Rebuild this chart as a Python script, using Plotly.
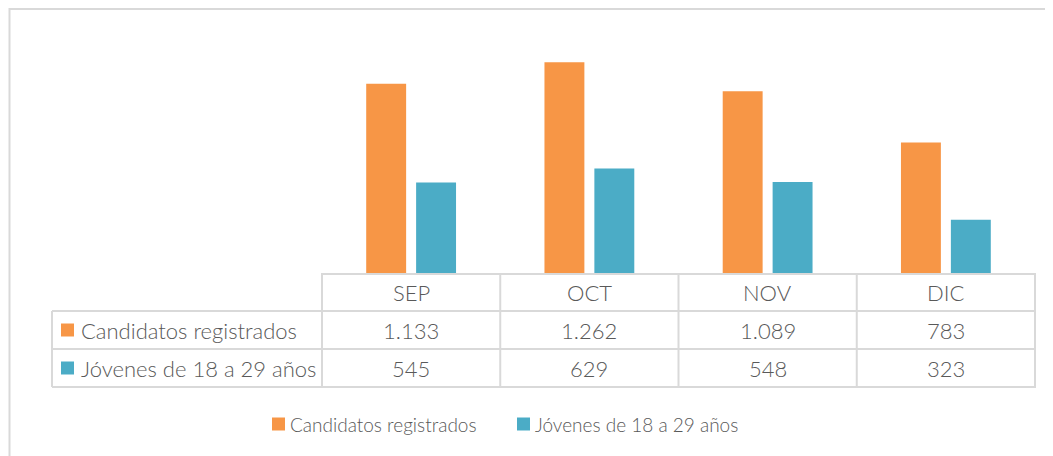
import plotly.graph_objects as go

months = ["SEP", "OCT", "NOV", "DIC"]
candidatos = [1133, 1262, 1089, 783]
jovenes = [545, 629, 548, 323]
candidatos_txt = ["1.133", "1.262", "1.089", "783"]
jovenes_txt = ["545", "629", "548", "323"]
series_names = ["Candidatos registrados", "Jóvenes de 18 a 29 años"]

ORANGE = "#F79646"
TEAL = "#4BACC6"
GRID = "#D9D9D9"
TEXT = "#595959"
FONT = "Lato"

# page body adds an 8px margin, so the figure is drawn 8px smaller and
# positions below are given in page pixels
OFF = 8
W, H = 1053 - OFF, 456 - OFF
L, R, T, B = 321 - OFF, 17, 39 - OFF, 182
PW, PH = W - L - R, H - T - B


def px(x):
    return (x - OFF - L) / PW


def py(y):
    return (H - B - (y - OFF)) / PH


fig = go.Figure()

fig.add_trace(go.Bar(x=months, y=candidatos, name=series_names[0],
                     marker=dict(color=ORANGE, line=dict(width=0))))
fig.add_trace(go.Bar(x=months, y=jovenes, name=series_names[1],
                     marker=dict(color=TEAL, line=dict(width=0))))

shapes = []
line = dict(color=GRID, width=2)

# outer chart border
shapes.append(dict(type="rect", xref="paper", yref="paper",
                   x0=px(9.5), x1=px(1080), y0=py(9), y1=py(480),
                   line=dict(color=GRID, width=2)))

# data table grid
row_y = [274, 311, 349, 387]
left_x = 52
shapes.append(dict(type="line", xref="paper", yref="paper",
                   x0=0, x1=1, y0=py(row_y[0]), y1=py(row_y[0]), line=line))
for y in row_y[1:]:
    shapes.append(dict(type="line", xref="paper", yref="paper",
                       x0=px(left_x), x1=1, y0=py(y), y1=py(y), line=line))
for i in range(len(months) + 1):
    shapes.append(dict(type="line", xref="x", yref="paper",
                       x0=i - 0.5, x1=i - 0.5, y0=py(row_y[0]), y1=py(row_y[-1]),
                       line=line))
shapes.append(dict(type="line", xref="paper", yref="paper",
                   x0=px(left_x), x1=px(left_x), y0=py(row_y[1]), y1=py(row_y[-1]),
                   line=line))

annotations = []
font = dict(family=FONT, size=22, color=TEXT, weight=300)
for i, m in enumerate(months):
    for r, txt in enumerate([m, candidatos_txt[i], jovenes_txt[i]]):
        annotations.append(dict(x=m, xref="x", yref="paper",
                                y=py((row_y[r] + row_y[r + 1]) / 2),
                                xanchor="center", yanchor="middle",
                                text=txt, showarrow=False, font=font))

for k, (name, col) in enumerate(zip(series_names, [ORANGE, TEAL])):
    yc = (row_y[k + 1] + row_y[k + 2]) / 2
    shapes.append(dict(type="rect", xref="paper", yref="paper",
                       x0=px(61), x1=px(74), y0=py(yc - 6.5), y1=py(yc + 6.5),
                       fillcolor=col, line=dict(width=0)))
    annotations.append(dict(x=px(79), xref="paper", yref="paper", y=py(yc),
                            xanchor="left", yanchor="middle",
                            text=name, showarrow=False, font=font))

# legend below the table
leg_y = 424
leg_x = [272, 517]
for name, col, x in zip(series_names, [ORANGE, TEAL], leg_x):
    shapes.append(dict(type="rect", xref="paper", yref="paper",
                       x0=px(x), x1=px(x + 13), y0=py(leg_y - 6.5), y1=py(leg_y + 6.5),
                       fillcolor=col, line=dict(width=0)))
    annotations.append(dict(x=px(x + 16), xref="paper", yref="paper", y=py(leg_y),
                            xanchor="left", yanchor="middle", text=name,
                            showarrow=False,
                            font=dict(family=FONT, size=19, color=TEXT, weight=300)))

fig.update_layout(
    width=W, height=H,
    margin=dict(l=L, r=R, t=T, b=B),
    paper_bgcolor="white", plot_bgcolor="white",
    barmode="group", bargap=0.44, bargroupgap=0.2,
    showlegend=False,
    font=dict(family=FONT, color=TEXT),
    xaxis=dict(showticklabels=False, showgrid=False, zeroline=False, showline=False,
               ticks=""),
    yaxis=dict(range=[0, 1400], visible=False),
    shapes=shapes,
    annotations=annotations,
)

fig.write_html("out.html")
